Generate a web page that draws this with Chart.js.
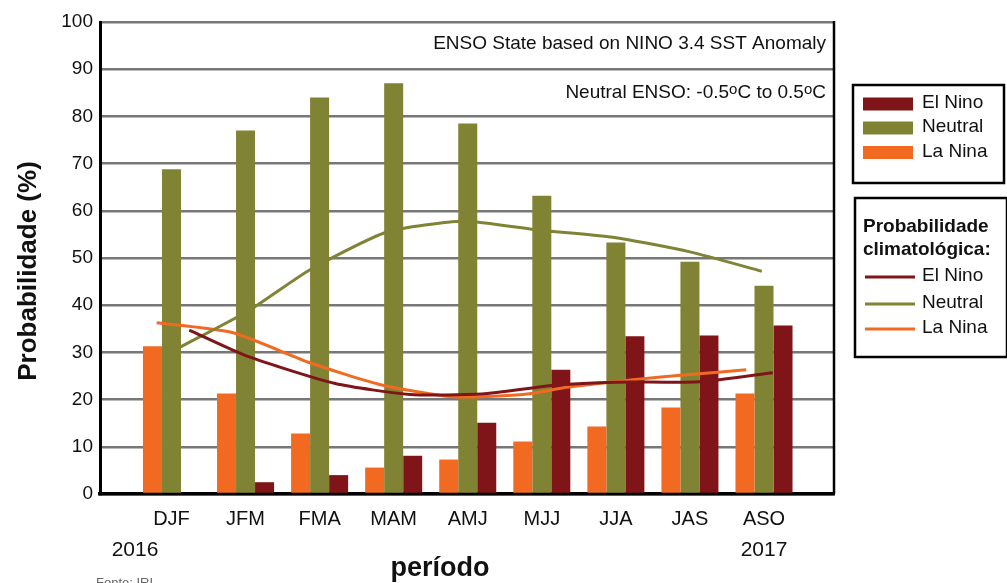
<!DOCTYPE html>
<html>
<head>
<meta charset="utf-8">
<script src="https://cdn.jsdelivr.net/npm/chart.js@4/dist/chart.umd.min.js"></script>
<style>
  html, body { margin: 0; padding: 0; background: #fff; }
  #wrap { width: 1007px; height: 583px; }
</style>
</head>
<body>
<div id="wrap"><canvas id="chart" width="1007" height="583"></canvas></div>
<script>
// periods (3-month seasons)
const periods = ['DJF', 'JFM', 'FMA', 'MAM', 'AMJ', 'MJJ', 'JJA', 'JAS', 'ASO'];
const yTicks = [0, 10, 20, 30, 40, 50, 60, 70, 80, 90, 100];

// forecast probabilities (%)
const laNina  = [31.3, 21.3, 12.8, 5.6, 7.3, 11.1, 14.3, 18.3, 21.3];
const neutral = [68.8, 77.0, 84.0, 87.0, 78.5, 63.2, 53.3, 49.2, 44.1];
const elNino  = [0, 2.5, 4.0, 8.1, 15.1, 26.3, 33.4, 33.6, 35.7];

// climatological probability: [period position, %]
const climElNino = [[0.24, 34.7], [1.02, 29.2], [2.21, 23.4], [3.22, 21.1], [4.19, 21.2],
                    [5.2, 23.1], [6.01, 23.7], [7.14, 23.8], [8.12, 25.7]];
const climNeutral = [[0.115, 31.1], [1.06, 39.0], [1.87, 47.5], [2.91, 55.5], [3.94, 57.8],
                     [4.97, 55.9], [5.96, 54.4], [7.0, 51.3], [7.97, 47.2]];
const climLaNina = [[-0.2, 36.3], [0.82, 34.2], [1.87, 27.8], [2.81, 23.2], [3.79, 20.6],
                    [4.75, 21.1], [5.34, 22.6], [6.23, 24.2], [6.91, 25.2], [7.76, 26.3]];

const C_NINA = '#f26a22';
const C_NEUT = '#818334';
const C_NINO = '#7f1518';
const FONT = '"Liberation Sans", Arial, sans-serif';

const toBars = arr => arr.map((v, i) => ({ x: i, y: v }));
const toLine = arr => arr.map(p => ({ x: p[0], y: p[1] }));

function barSet(label, arr, color) {
  return {
    type: 'bar', label, data: toBars(arr), backgroundColor: color,
    barPercentage: 1, categoryPercentage: 0.77, order: 1
  };
}
function lineSet(label, arr, color) {
  return {
    type: 'line', label, data: toLine(arr), borderColor: color, borderWidth: 3,
    pointRadius: 0, tension: 0.2, fill: false, order: 0
  };
}

// text, legends and frame drawn on top of the chart
const extras = {
  id: 'extras',
  afterDraw(chart) {
    const ctx = chart.ctx;
    const area = chart.chartArea;
    ctx.save();

    // right frame line
    ctx.strokeStyle = '#000';
    ctx.lineWidth = 2.5;
    ctx.beginPath();
    ctx.moveTo(area.right, area.top - 1);
    ctx.lineTo(area.right, area.bottom);
    ctx.stroke();

    ctx.fillStyle = '#111';
    ctx.textBaseline = 'middle';

    // y title
    ctx.save();
    ctx.translate(29, 271);
    ctx.rotate(-Math.PI / 2);
    ctx.textAlign = 'center';
    ctx.font = 'bold 26px ' + FONT;
    ctx.fillText('Probabilidade (%)', 0, 0);
    ctx.restore();

    // x title, years, source
    ctx.textAlign = 'center';
    ctx.font = 'bold 27px ' + FONT;
    ctx.fillText('período', 440, 569);
    ctx.font = '21px ' + FONT;
    ctx.fillText('2016', 135, 550);
    ctx.fillText('2017', 764, 550);
    ctx.textAlign = 'left';
    ctx.textBaseline = 'top';
    ctx.fillStyle = '#666';
    ctx.font = '13px ' + FONT;
    ctx.fillText('Fonte: IRI', 96, 577);

    // annotations
    ctx.fillStyle = '#111';
    ctx.textBaseline = 'middle';
    ctx.textAlign = 'right';
    ctx.font = '19px ' + FONT;
    ctx.fillText('ENSO State based on NINO 3.4 SST Anomaly', 826, 44);
    const runs = [['Neutral ENSO: -0.5', 0], ['o', 1], ['C to 0.5', 0], ['o', 1], ['C', 0]];
    let x = 826;
    ctx.textAlign = 'left';
    for (let i = runs.length - 1; i >= 0; i--) {
      const [t, small] = runs[i];
      ctx.font = (small ? '15px ' : '19px ') + FONT;
      x -= ctx.measureText(t).width;
      ctx.fillText(t, x, small ? 90 : 93);
    }

    // legend box 1
    ctx.strokeStyle = '#000';
    ctx.lineWidth = 2.5;
    ctx.strokeRect(853, 85, 151, 98);
    const items = [['El Nino', C_NINO, 104], ['Neutral', C_NEUT, 128], ['La Nina', C_NINA, 152.5]];
    ctx.font = '19px ' + FONT;
    items.forEach(([t, c, y]) => {
      ctx.fillStyle = c;
      ctx.fillRect(863, y - 6.5, 50, 13);
      ctx.fillStyle = '#111';
      ctx.fillText(t, 922, y - 1);
    });

    // legend box 2
    ctx.strokeRect(855, 198, 152, 159);
    ctx.font = 'bold 19px ' + FONT;
    ctx.fillText('Probabilidade', 863, 227);
    ctx.fillText('climatológica:', 863, 250);
    ctx.font = '19px ' + FONT;
    const lines = [['El Nino', C_NINO, 277], ['Neutral', C_NEUT, 304], ['La Nina', C_NINA, 329]];
    lines.forEach(([t, c, y]) => {
      ctx.strokeStyle = c;
      ctx.lineWidth = 3;
      ctx.beginPath();
      ctx.moveTo(865, y);
      ctx.lineTo(915, y);
      ctx.stroke();
      ctx.fillStyle = '#111';
      ctx.fillText(t, 922, y - 1);
    });
    ctx.restore();
  }
};

new Chart(document.getElementById('chart'), {
  type: 'bar',
  data: {
    datasets: [
      barSet('La Nina', laNina, C_NINA),
      barSet('Neutral', neutral, C_NEUT),
      barSet('El Nino', elNino, C_NINO),
      lineSet('El Nino clim.', climElNino, C_NINO),
      lineSet('Neutral clim.', climNeutral, C_NEUT),
      lineSet('La Nina clim.', climLaNina, C_NINA)
    ]
  },
  options: {
    responsive: false,
    animation: false,
    layout: { padding: { left: 0, right: 173, top: 22, bottom: 0 } },
    plugins: { legend: { display: false }, tooltip: { enabled: false } },
    scales: {
      x: {
        type: 'linear',
        offset: false,
        min: -0.965,
        max: 8.945,
        z: 1,
        afterFit: s => { s.height = 89; },
        afterBuildTicks: s => { s.ticks = periods.map((p, i) => ({ value: i })); },
        grid: { display: false, drawTicks: false },
        border: { display: true, color: '#000', width: 3.5 },
        ticks: {
          autoSkip: false, maxRotation: 0, padding: 13,
          color: '#111', font: { family: FONT, size: 20 },
          callback: v => periods[v]
        }
      },
      y: {
        min: 0,
        max: 100,
        afterFit: s => { s.width = 100; },
        afterBuildTicks: s => { s.ticks = yTicks.map(v => ({ value: v })); },
        grid: { color: '#777', lineWidth: 2.5, drawTicks: false },
        border: { display: true, color: '#000', width: 3 },
        ticks: { padding: 7, color: '#111', font: { family: FONT, size: 19 } }
      }
    }
  },
  plugins: [extras]
});
</script>
</body>
</html>
